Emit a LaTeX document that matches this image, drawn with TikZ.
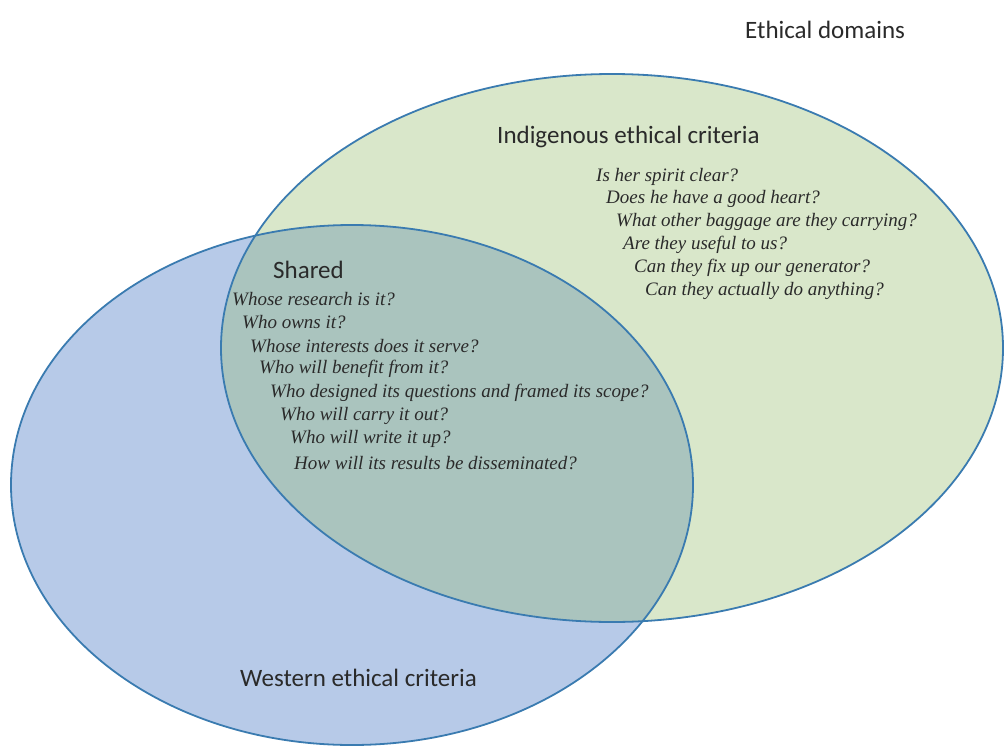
\documentclass[tikz,border=0pt]{standalone}
\usepackage{fontspec}
\setmainfont{Liberation Serif}
\newfontfamily\headfont{Carlito}
\definecolor{indfill}{HTML}{D9E7CA}
\definecolor{westfill}{HTML}{B7CAE8}
\definecolor{sharedfill}{HTML}{AAC4BE}
\definecolor{rimblue}{HTML}{3A7BB0}
\definecolor{inkgray}{HTML}{2A2A2A}

\begin{document}
\begin{tikzpicture}[x=1pt,y=-1pt,
  heading/.style={font=\headfont\fontsize{25}{28}\selectfont,text=inkgray,anchor=west,inner sep=0pt},
  question/.style={font=\itshape\fontsize{19}{22}\selectfont,text=inkgray,anchor=west,inner sep=0pt},
  rim/.style={draw=rimblue,line width=1.8pt}]

\useasboundingbox (0,0) rectangle (1004,747);

% the two domains
\fill[indfill] (612,348) ellipse [x radius=391,y radius=274];
\fill[westfill] (352,485) ellipse [x radius=341,y radius=260];
\begin{scope}
  \clip (612,348) ellipse [x radius=391,y radius=274];
  \fill[sharedfill] (352,485) ellipse [x radius=341,y radius=260];
\end{scope}
\path[rim] (612,348) ellipse [x radius=391,y radius=274];
\path[rim] (352,485) ellipse [x radius=341,y radius=260];

% headings
\node[heading] (domains) at (745,30) {Ethical domains};
\node[heading] (indig) at (497,137) {Indigenous ethical criteria};
\node[heading] (shared) at (273,270) {Shared};
\node[heading] (western) at (240,678) {Western ethical criteria};

% questions
\foreach \x/\y/\q [count=\i] in {596/177/Is her spirit clear?,
    606/199/Does he have a good heart?,
    616/222/What other baggage are they carrying?,
    623/245/Are they useful to us?,
    634/268/Can they fix up our generator?,
    645/291/Can they actually do anything?}
  \node[question] (indq\i) at (\x,\y) {\q};

\foreach \x/\y/\q [count=\i] in {232/299/Whose research is it?,
    242/322/Who owns it?,
    250/346/Whose interests does it serve?,
    259/369/Who will benefit from it?,
    270/393/Who designed its questions and framed its scope?,
    280/416/Who will carry it out?,
    290/439/Who will write it up?,
    294/463/How will its results be disseminated?}
  \node[question] (shq\i) at (\x,\y) {\q};

\end{tikzpicture}
\end{document}
